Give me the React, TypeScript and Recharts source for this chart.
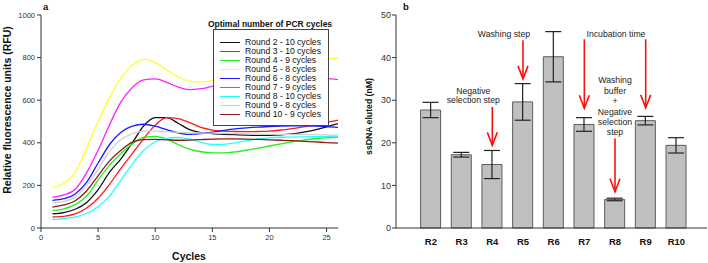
import React from 'react';
import {
  LineChart, Line, XAxis, YAxis, Legend,
  BarChart, Bar, ErrorBar, ReferenceLine, ReferenceDot,
} from 'recharts';

// ---------- Panel a data ----------
const cycles = [1, 2, 3, 4, 5, 6, 7, 8, 9, 10, 11, 12, 13, 14, 15, 16, 17, 18, 19, 20, 21, 22, 23, 24, 25, 26];
const round2 = [66, 72, 88, 120, 180, 262, 325, 400, 480, 518, 518, 492, 462, 448, 443, 440, 438, 436, 435, 435, 437, 442, 450, 461, 475, 490];
const round3 = [52, 55, 66, 94, 140, 205, 280, 350, 420, 483, 518, 514, 495, 472, 460, 455, 453, 452, 453, 455, 460, 467, 475, 485, 496, 506];
const round4 = [82, 90, 110, 150, 225, 295, 350, 395, 425, 430, 418, 392, 370, 358, 353, 353, 357, 365, 375, 385, 395, 405, 413, 419, 424, 427];
const round5 = [188, 210, 262, 375, 500, 612, 705, 765, 792, 778, 742, 710, 690, 686, 692, 703, 715, 728, 740, 752, 763, 773, 781, 788, 794, 797];
const round6 = [130, 138, 160, 215, 305, 392, 450, 478, 487, 478, 462, 447, 440, 443, 450, 458, 465, 470, 474, 476, 478, 479, 479, 478, 476, 472];
const round7 = [145, 155, 182, 260, 365, 485, 592, 660, 695, 700, 684, 662, 650, 654, 665, 675, 684, 690, 695, 698, 700, 701, 702, 702, 701, 697];
const round8 = [40, 44, 52, 68, 100, 150, 225, 300, 365, 405, 422, 425, 418, 402, 392, 393, 400, 410, 418, 423, 426, 427, 428, 429, 430, 430];
const round9 = [117, 125, 145, 200, 275, 360, 415, 443, 455, 455, 452, 449, 447, 446, 445, 444, 443, 442, 441, 440, 440, 439, 439, 438, 437, 436];
const round10 = [98, 108, 128, 175, 245, 315, 365, 403, 415, 416, 414, 412, 413, 415, 417, 418, 418, 417, 416, 414, 412, 410, 407, 404, 401, 398];

const seriesValues = [round2, round3, round4, round5, round6, round7, round8, round9, round10];
const seriesNames = [
  'Round 2 - 10 cycles', 'Round 3 - 10 cycles', 'Round 4 - 9 cycles',
  'Round 5 - 8 cycles', 'Round 6 - 8 cycles', 'Round 7 - 9 cycles',
  'Round 8 - 10 cycles', 'Round 9 - 8 cycles', 'Round 10 - 9 cycles',
];
const seriesColors = ['#111111', '#ff1a1a', '#22ee22', '#ffff22', '#1a1aff', '#ff22ff', '#22ffff', '#d0d0d0', '#8b1a1a'];
const xTicksA = [0, 5, 10, 15, 20, 25];
const yTicksA = [0, 200, 400, 600, 800, 1000];

const lineData = cycles.map((c, i) => {
  const row: Record<string, number> = { cycle: c };
  seriesValues.forEach((s, k) => { row['s' + k] = s[i]; });
  return row;
});

// ---------- Panel b data ----------
const rounds = ['R2', 'R3', 'R4', 'R5', 'R6', 'R7', 'R8', 'R9', 'R10'];
const eluted = [27.7, 17.2, 14.9, 29.6, 40.2, 24.3, 6.7, 25.2, 19.4];
const elutedErr = [1.8, 0.55, 3.3, 4.3, 5.9, 1.6, 0.3, 1.0, 1.8];
const yTicksB = [0, 10, 20, 30, 40, 50];

const barData = rounds.map((r, i) => ({ round: r, value: eluted[i], err: elutedErr[i] }));

const arrowRounds = ['R4', 'R5', 'R7', 'R9', 'R8'];
const arrowFrom = [28.4, 44.1, 44.3, 44.3, 21.0];
const arrowTo = [19.4, 35.0, 28.1, 28.2, 8.5];

const noteRounds = ['R4', 'R5', 'R8', 'R8'];
const noteY = [32.2, 45.5, 45.5, 34.65];
const noteLines = [
  ['Negative', 'selection step'],
  ['Washing step'],
  ['Incubation time'],
  ['Washing', 'buffer', '+', 'Negative', 'selection', 'step'],
];
const noteDx = [-19, -19, 1, 0];
const noteGap = [9.4, 0, 0, 10.4];

const FONT = '"Liberation Sans", Arial, Helvetica, sans-serif';
const AXIS = '#333333';

const ArrowShape = (props: any) => {
  const { x1, y1, x2, y2 } = props;
  const down = y2 >= y1;
  const tx = down ? x2 : x1;
  const ty = down ? y2 : y1;
  const sx = down ? x1 : x2;
  const sy = down ? y1 : y2;
  const head = 13;
  const half = 5;
  return (
    <g stroke="#ff1010" strokeWidth={1.6} fill="none">
      <line x1={sx} y1={sy} x2={tx} y2={ty} />
      <polyline points={`${tx - half},${ty - head} ${tx},${ty} ${tx + half},${ty - head}`} />
    </g>
  );
};

const makeNote = (k: number) => (props: any) => {
  const { cx, cy } = props;
  const lines = noteLines[k];
  return (
    <text
      x={cx + noteDx[k]}
      y={cy}
      textAnchor="middle"
      dominantBaseline="central"
      fontSize={8.7}
      fill="#222"
      fontFamily={FONT}
    >
      {lines.map((l, i) => (
        <tspan key={i} x={cx + noteDx[k]} dy={i === 0 ? 0 : noteGap[k]}>{l}</tspan>
      ))}
    </text>
  );
};

const LegendBox = () => {
  return (
    <div style={{ position: 'absolute', left: 0, top: 0, fontFamily: FONT }}>
      <div style={{
        position: 'absolute', left: 204, top: 18, width: 132, textAlign: 'center',
        fontWeight: 'bold', fontSize: 8.5, whiteSpace: 'nowrap', lineHeight: '12px', color: '#111',
      }}>Optimal number of PCR cycles</div>
      <div style={{
        position: 'absolute', left: 213, top: 29, width: 114, height: 95,
        border: '1px solid #444', background: '#fff',
      }}>
        {seriesNames.map((name, i) => (
          <div key={i} style={{
            position: 'absolute', left: 6, top: 7.5 + i * 9, height: 9,
            display: 'flex', alignItems: 'center', whiteSpace: 'nowrap',
          }}>
            <span style={{ display: 'inline-block', width: 20, height: 0, borderTop: `1.5px solid ${seriesColors[i]}`, marginRight: 5 }} />
            <span style={{ fontSize: 8.6, lineHeight: '9px', color: '#111' }}>{name}</span>
          </div>
        ))}
      </div>
    </div>
  );
};

export default function App() {
  return (
    <div style={{ position: 'absolute', left: 0, top: 0, width: 708, height: 263, background: '#fff', fontFamily: FONT }}>
      <div style={{ position: 'absolute', left: 0, top: 0 }}>
        <LineChart width={354} height={263} data={lineData} margin={{ top: 15, right: 16, left: 0, bottom: 15 }}>
          <XAxis
            dataKey="cycle" type="number" domain={[0, 26]} ticks={xTicksA} allowDataOverflow
            height={20} tickSize={4} tickMargin={3} stroke={AXIS}
            tick={{ fontSize: 7.5, fill: '#333', fontFamily: FONT }}
          />
          <XAxis xAxisId="top" orientation="top" type="number" domain={[0, 1]} height={0}
            tick={false} tickLine={false} stroke="#555" />
          <YAxis
            type="number" domain={[0, 1000]} ticks={yTicksA} width={41}
            tickSize={4} tickMargin={2} stroke={AXIS}
            tick={{ fontSize: 7.5, fill: '#333', fontFamily: FONT }}
          />
          <YAxis yAxisId="right" orientation="right" type="number" domain={[0, 1]} width={0}
            tick={false} tickLine={false} stroke="#aaaaaa" strokeWidth={1.5} />
          {seriesNames.map((n, k) => (
            <Line
              key={n} type="monotone" dataKey={'s' + k} name={n} stroke={seriesColors[k]}
              strokeWidth={1.3} dot={false} isAnimationActive={false}
            />
          ))}
          <Legend
            layout="horizontal" verticalAlign="middle" align="center"
            wrapperStyle={{ left: 0, top: 0, width: 0, height: 0 }}
            content={LegendBox}
          />
        </LineChart>
      </div>
      <div style={{ position: 'absolute', left: 354, top: 0 }}>
        <BarChart width={354} height={263} data={barData} margin={{ top: 15, right: 1, left: 0, bottom: 15 }}>
          <XAxis
            dataKey="round" height={20} tickLine={false} tickSize={8} tickMargin={2}
            padding={{ left: 19.6, right: 15.3 }} stroke={AXIS} interval={0}
            tick={{ fontSize: 9.5, fontWeight: 'bold', fill: '#111', fontFamily: FONT }}
          />
          <XAxis xAxisId="top" orientation="top" dataKey="round" height={0}
            tick={false} tickLine={false} stroke="#555" />
          <YAxis
            type="number" domain={[0, 50]} ticks={yTicksB} width={42}
            tickSize={4} tickMargin={1} stroke={AXIS}
            tick={{ fontSize: 9, fill: '#333', fontFamily: FONT }}
          />
          <YAxis yAxisId="right" orientation="right" type="number" domain={[0, 1]} width={0}
            tick={false} tickLine={false} stroke="#aaaaaa" strokeWidth={1.5} />
          <Bar dataKey="value" barSize={20} fill="#c0c0c0" stroke="#5c5c5c" strokeWidth={1} isAnimationActive={false}>
            <ErrorBar dataKey="err" width={8} stroke="#222" strokeWidth={1.2} direction="y" />
          </Bar>
          {arrowRounds.map((r, i) => (
            <ReferenceLine
              key={'a' + i}
              segment={[{ x: r, y: arrowFrom[i] }, { x: r, y: arrowTo[i] }]}
              shape={ArrowShape}
              ifOverflow="visible"
            />
          ))}
          {noteRounds.map((r, i) => (
            <ReferenceDot key={'n' + i} x={r} y={noteY[i]} r={0} shape={makeNote(i)} ifOverflow="visible" />
          ))}
        </BarChart>
      </div>
      <svg width={708} height={263} style={{ position: 'absolute', left: 0, top: 0, pointerEvents: 'none' }}>
        <g fontFamily={FONT} fill="#111" fontWeight="bold">
          <text x={43} y={6} fontSize={9.5} dominantBaseline="central">a</text>
          <text x={403} y={6} fontSize={9.5} dominantBaseline="central">b</text>
          <text x={7} y={110} fontSize={10.5} textAnchor="middle" dominantBaseline="central" transform="rotate(-90 7 110)">
            Relative fluorescence units (RFU)
          </text>
          <text x={189} y={256} fontSize={10.5} textAnchor="middle" dominantBaseline="central">Cycles</text>
          <text x={369} y={116.5} fontSize={8.7} textAnchor="middle" dominantBaseline="central" transform="rotate(-90 369 116.5)">
            ssDNA eluted (nM)
          </text>
        </g>
      </svg>
    </div>
  );
}
